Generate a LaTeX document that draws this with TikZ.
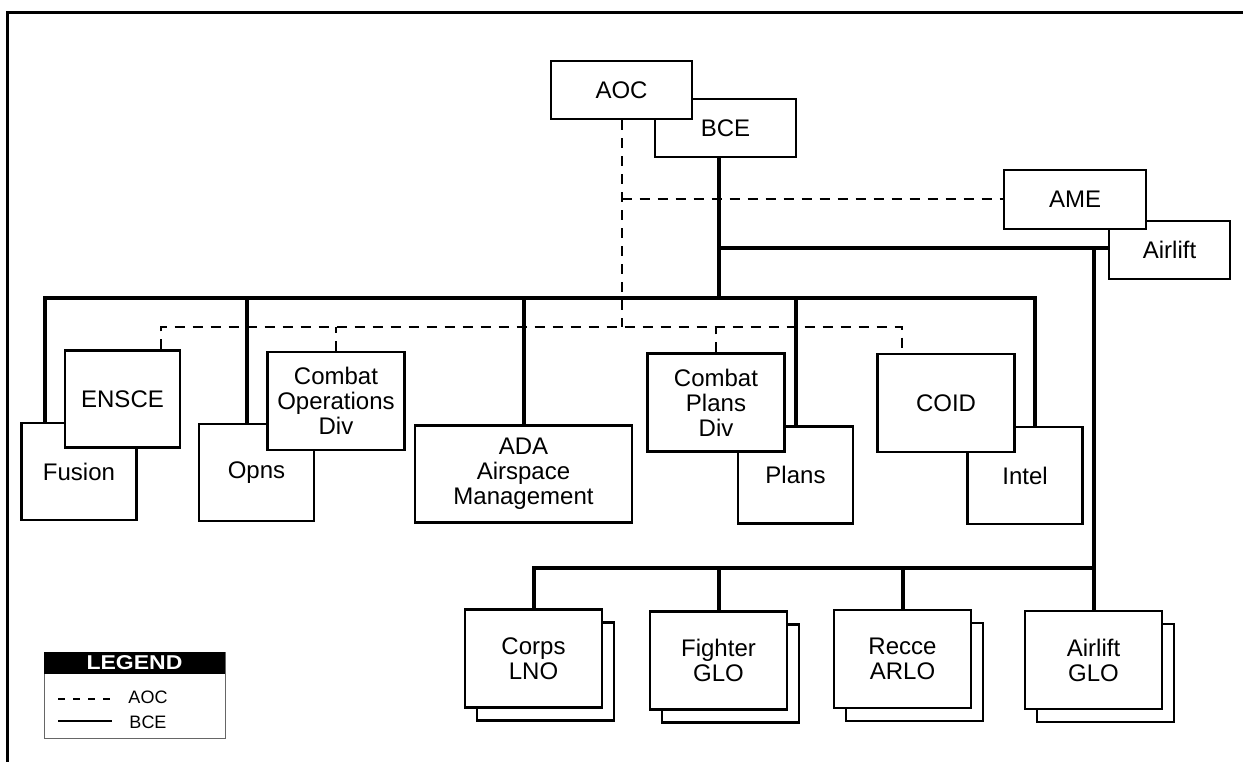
\documentclass[tikz,border=0pt]{standalone}
\usepackage{fontspec}
\setmainfont{Liberation Sans}
\newfontfamily\legendfont{Liberation Sans}[FakeStretch=1.15]
\usetikzlibrary{calc}

\begin{document}
\begin{tikzpicture}[x=1pt,y=-1pt,
  box/.style={draw,line width=2.2pt,fill=white,inner sep=0pt,align=center,font=\fontsize{24}{25}\selectfont},
  small/.style={box,minimum width=115pt,minimum height=97pt},
  mid/.style={box,minimum width=137pt,minimum height=98pt},
  bceline/.style={line width=4pt},
  aocline/.style={line width=2pt,dash pattern=on 10pt off 8pt}]
\useasboundingbox (0,0) rectangle (1243,762);
% Frame
\draw[line width=3pt] (7,762) -- (7,13) -- (1243,13);

% Top level
\node[box,minimum width=141pt,minimum height=58pt] (bce) at (725.5,128) {BCE};
\node[box,minimum width=141pt,minimum height=58pt] (aoc) at (621.5,90) {AOC};
\node[box,minimum width=121pt,minimum height=58pt] (airlift) at (1169.5,250) {Airlift};
\node[box,minimum width=142pt,minimum height=59pt] (ame) at (1075,199.5) {AME};

% Divisions
\node[small] (fusion) at (79,471.5) {Fusion};
\node[small] (ensce) at (122.5,399) {ENSCE};
\node[small] (opns) at (256.5,472.5) {Opns};
\node[mid] (cod) at (336,401) {Combat\\Operations\\Div};
\node[box,minimum width=217pt,minimum height=97pt] (ada) at (523.5,474) {ADA\\Airspace\\Management};
\node[small] (plans) at (795.5,475) {Plans};
\node[mid] (cpd) at (716,402.5) {Combat\\Plans\\Div};
\node[small] (intel) at (1025,475.5) {Intel};
\node[mid] (coid) at (946,403) {COID};

% Liaison officers
\foreach \n/\x/\y/\t in {corps/533.5/658.5/{Corps\\LNO},fighter/718.5/660.5/{Fighter\\GLO},
    recce/902.5/659/{Recce\\ARLO},alglo/1093.5/660/{Airlift\\GLO}} {
  \node[mid] (\n back) at (\x+12,\y+13) {};
  \node[mid] (\n) at (\x,\y) {\t};
}

% BCE lines
\coordinate (mainbus) at (719,298);
\coordinate (airbus) at (719,248);
\coordinate (lowbus) at (531,568);
\draw[bceline] ([xshift=-6.5pt]bce.south) -- (mainbus);
\draw[bceline] ([xshift=-34pt]fusion.north) |- (mainbus) -| ([xshift=9.5pt]intel.north);
\draw[bceline] ([xshift=-9.5pt]opns.north) -- ([xshift=-9.5pt]opns.north |- mainbus);
\draw[bceline] (ada.north) -- (ada.north |- mainbus);
\draw[bceline] (plans.north) -- (plans.north |- mainbus);
\draw[bceline] (airbus) -- (airbus -| airlift.west);
\draw[bceline] (airbus -| alglo.north) -- (alglo.north);
\draw[bceline] (corps.north) |- (lowbus -| alglo.north);
\draw[bceline] (fighter.north) -- (fighter.north |- lowbus);
\draw[bceline] (recce.north) -- (recce.north |- lowbus);

% AOC lines
\coordinate (dashbus) at (621,327);
\draw[aocline] (aoc.south) -- (aoc.south |- dashbus);
\draw[aocline] (aoc.south |- ame.west) -- (ame.west);
\draw[aocline] ([xshift=38.5pt]ensce.north) |- (dashbus) -| ([xshift=-44pt]coid.north);
\draw[aocline] (cod.north) -- (cod.north |- dashbus);
\draw[aocline] (cpd.north) -- (cpd.north |- dashbus);

% Legend
\node[draw=black!60,line width=0.8pt,minimum width=181pt,minimum height=86pt,inner sep=0pt] (legend) at (134.5,695) {};
\node[fill=black,text=white,font=\legendfont\bfseries\fontsize{20}{21}\selectfont,minimum width=181pt,minimum height=22pt,inner sep=0pt,anchor=north] (legendhead) at (legend.north) {LEGEND};
\coordinate (aocstart) at (58,699);
\coordinate (aocend) at (112,699);
\coordinate (bcestart) at (58,721);
\coordinate (bceend) at (112,721);
\draw[line width=1.2pt,dash pattern=on 7pt off 8pt] (aocstart) -- (aocend);
\draw[line width=1.2pt] (bcestart) -- (bceend);
\node[font=\fontsize{18}{20}\selectfont,inner sep=0pt] (legaoc) at (148,697) {AOC};
\node[font=\fontsize{18}{20}\selectfont,inner sep=0pt] (legbce) at (148,722) {BCE};
\end{tikzpicture}
\end{document}
